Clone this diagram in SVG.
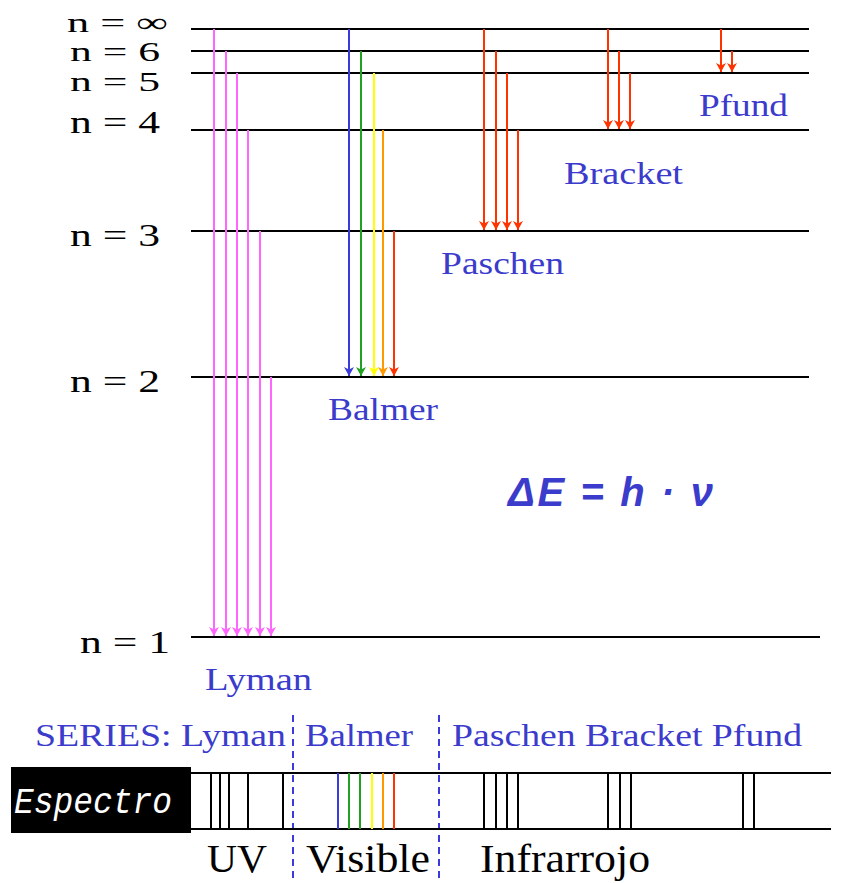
<svg xmlns="http://www.w3.org/2000/svg" width="843" height="883" viewBox="0 0 843 883">
<style>
.lvl{stroke:#000;stroke-width:2.2;fill:none}
.lab{font-family:"Liberation Serif","DejaVu Serif",serif;font-size:32px;fill:#000}
.lab.sm{font-size:28px}
.ser{font-family:"Liberation Serif","DejaVu Serif",serif;font-size:32px;fill:#3b3bcc}
.bot{font-family:"Liberation Serif","DejaVu Serif",serif;font-size:40px;fill:#000}
.ar{stroke-width:2;fill:none}
.pk{stroke:#ff66ff}.bl{stroke:#3b3bdd}.gr{stroke:#22a022}.ye{stroke:#ffff00}.or{stroke:#ff9900}.rd{stroke:#ff3300}
.sp{stroke:#000;stroke-width:2}
.dash{stroke:#3b3bdd;stroke-width:2;stroke-dasharray:7 5}
</style>
<defs>
<marker id="m-pk" viewBox="0 -5 10 10" refX="9" refY="0" markerWidth="10" markerHeight="10" markerUnits="userSpaceOnUse" orient="auto"><path d="M0,-5 L9,0 L0,5 L2.5,0 z" fill="#ff66ff"/></marker>
<marker id="m-bl" viewBox="0 -5 10 10" refX="9" refY="0" markerWidth="10" markerHeight="10" markerUnits="userSpaceOnUse" orient="auto"><path d="M0,-5 L9,0 L0,5 L2.5,0 z" fill="#3b3bdd"/></marker>
<marker id="m-gr" viewBox="0 -5 10 10" refX="9" refY="0" markerWidth="10" markerHeight="10" markerUnits="userSpaceOnUse" orient="auto"><path d="M0,-5 L9,0 L0,5 L2.5,0 z" fill="#22a022"/></marker>
<marker id="m-ye" viewBox="0 -5 10 10" refX="9" refY="0" markerWidth="10" markerHeight="10" markerUnits="userSpaceOnUse" orient="auto"><path d="M0,-5 L9,0 L0,5 L2.5,0 z" fill="#ffff00"/></marker>
<marker id="m-or" viewBox="0 -5 10 10" refX="9" refY="0" markerWidth="10" markerHeight="10" markerUnits="userSpaceOnUse" orient="auto"><path d="M0,-5 L9,0 L0,5 L2.5,0 z" fill="#ff9900"/></marker>
<marker id="m-rd" viewBox="0 -5 10 10" refX="9" refY="0" markerWidth="10" markerHeight="10" markerUnits="userSpaceOnUse" orient="auto"><path d="M0,-5 L9,0 L0,5 L2.5,0 z" fill="#ff3300"/></marker>
</defs>
<rect width="843" height="883" fill="#fff"/>

<g id="levels">
<g id="level-inf"><path class="lvl" d="M191 29 H809"/><text class="lab sm" x="67" y="32" textLength="101" lengthAdjust="spacingAndGlyphs">n = ∞</text></g>
<g id="level-6"><path class="lvl" d="M191 51 H809"/><text class="lab sm" x="70" y="61" textLength="90" lengthAdjust="spacingAndGlyphs">n = 6</text></g>
<g id="level-5"><path class="lvl" d="M191 73 H809"/><text class="lab sm" x="70" y="91" textLength="90" lengthAdjust="spacingAndGlyphs">n = 5</text></g>
<g id="level-4"><path class="lvl" d="M191 130 H809"/><text class="lab" x="70" y="133" textLength="90" lengthAdjust="spacingAndGlyphs">n = 4</text></g>
<g id="level-3"><path class="lvl" d="M191 231 H809"/><text class="lab" x="70" y="246" textLength="90" lengthAdjust="spacingAndGlyphs">n = 3</text></g>
<g id="level-2"><path class="lvl" d="M191 377 H809"/><text class="lab" x="70" y="392" textLength="90" lengthAdjust="spacingAndGlyphs">n = 2</text></g>
<g id="level-1"><path class="lvl" d="M191 637 H820"/><text class="lab" x="80" y="653" textLength="90" lengthAdjust="spacingAndGlyphs">n = 1</text></g>
</g>

<g id="connectors">
<path class="ar pk" d="M214 29 V636" marker-end="url(#m-pk)"/>
<path class="ar pk" d="M226 51 V636" marker-end="url(#m-pk)"/>
<path class="ar pk" d="M237 73 V636" marker-end="url(#m-pk)"/>
<path class="ar pk" d="M248 130 V636" marker-end="url(#m-pk)"/>
<path class="ar pk" d="M260 231 V636" marker-end="url(#m-pk)"/>
<path class="ar pk" d="M271 377 V636" marker-end="url(#m-pk)"/>
<path class="ar bl" d="M349 29 V376" marker-end="url(#m-bl)"/>
<path class="ar gr" d="M361 51 V376" marker-end="url(#m-gr)"/>
<path class="ar ye" d="M374 73 V376" marker-end="url(#m-ye)"/>
<path class="ar or" d="M383 130 V376" marker-end="url(#m-or)"/>
<path class="ar rd" d="M394 231 V376" marker-end="url(#m-rd)"/>
<path class="ar rd" d="M484 29 V230" marker-end="url(#m-rd)"/>
<path class="ar rd" d="M496 51 V230" marker-end="url(#m-rd)"/>
<path class="ar rd" d="M507 73 V230" marker-end="url(#m-rd)"/>
<path class="ar rd" d="M518 130 V230" marker-end="url(#m-rd)"/>
<path class="ar rd" d="M608 29 V129" marker-end="url(#m-rd)"/>
<path class="ar rd" d="M619 51 V129" marker-end="url(#m-rd)"/>
<path class="ar rd" d="M630 73 V129" marker-end="url(#m-rd)"/>
<path class="ar rd" d="M721 29 V72" marker-end="url(#m-rd)"/>
<path class="ar rd" d="M732 51 V72" marker-end="url(#m-rd)"/>
</g>

<g id="series-labels">
<text id="lbl-pfund" class="ser" x="699" y="116" textLength="89" lengthAdjust="spacingAndGlyphs">Pfund</text>
<text id="lbl-bracket" class="ser" x="564" y="184" textLength="119" lengthAdjust="spacingAndGlyphs">Bracket</text>
<text id="lbl-paschen" class="ser" x="441" y="274" textLength="123" lengthAdjust="spacingAndGlyphs">Paschen</text>
<text id="lbl-balmer" class="ser" x="328" y="420" textLength="110" lengthAdjust="spacingAndGlyphs">Balmer</text>
<text id="lbl-lyman" class="ser" x="205" y="690" textLength="107" lengthAdjust="spacingAndGlyphs">Lyman</text>
</g>

<g id="formula">
<text x="508" y="506" font-family="'Liberation Sans',Arial,sans-serif" font-size="40" font-weight="bold" font-style="italic" fill="#3b3bcc" textLength="205" lengthAdjust="spacing">ΔE = h · ν</text>
</g>

<g id="series-row">
<text class="ser" x="35" y="746" textLength="251" lengthAdjust="spacingAndGlyphs">SERIES: Lyman</text>
<text class="ser" x="305" y="746" textLength="108" lengthAdjust="spacingAndGlyphs">Balmer</text>
<text class="ser" x="452" y="746" textLength="350" lengthAdjust="spacingAndGlyphs">Paschen Bracket Pfund</text>
<path class="dash" d="M293 715 V883"/>
<path class="dash" d="M439 715 V883"/>
</g>

<g id="spectrum">
<rect x="11" y="767" width="180" height="66" fill="#000"/>
<text x="14" y="813" font-family="'Liberation Mono','Courier New',monospace" font-size="36" font-style="italic" fill="#fff" textLength="158" lengthAdjust="spacingAndGlyphs">Espectro</text>
<path class="sp" d="M191 773 H831 M191 829 H831"/>
<path class="sp" d="M211 773 V829 M220 773 V829 M229 773 V829 M248 773 V829 M283 773 V829"/>
<path stroke="#3b3bdd" stroke-width="2" d="M338 773 V829"/>
<path stroke="#22a022" stroke-width="2" d="M349 773 V829 M360 773 V829"/>
<path stroke="#ffff00" stroke-width="2" d="M372 773 V829"/>
<path stroke="#ff9900" stroke-width="2" d="M383 773 V829"/>
<path stroke="#ff3300" stroke-width="2" d="M394 773 V829"/>
<path class="sp" d="M484 773 V829 M496 773 V829 M507 773 V829 M518 773 V829"/>
<path class="sp" d="M608 773 V829 M620 773 V829 M631 773 V829"/>
<path class="sp" d="M743 773 V829 M754 773 V829"/>
</g>

<g id="region-labels">
<text class="bot" x="207" y="872" textLength="60" lengthAdjust="spacingAndGlyphs">UV</text>
<text class="bot" x="306" y="872" textLength="124" lengthAdjust="spacingAndGlyphs">Visible</text>
<text class="bot" x="480" y="872" textLength="170" lengthAdjust="spacingAndGlyphs">Infrarrojo</text>
</g>
</svg>
